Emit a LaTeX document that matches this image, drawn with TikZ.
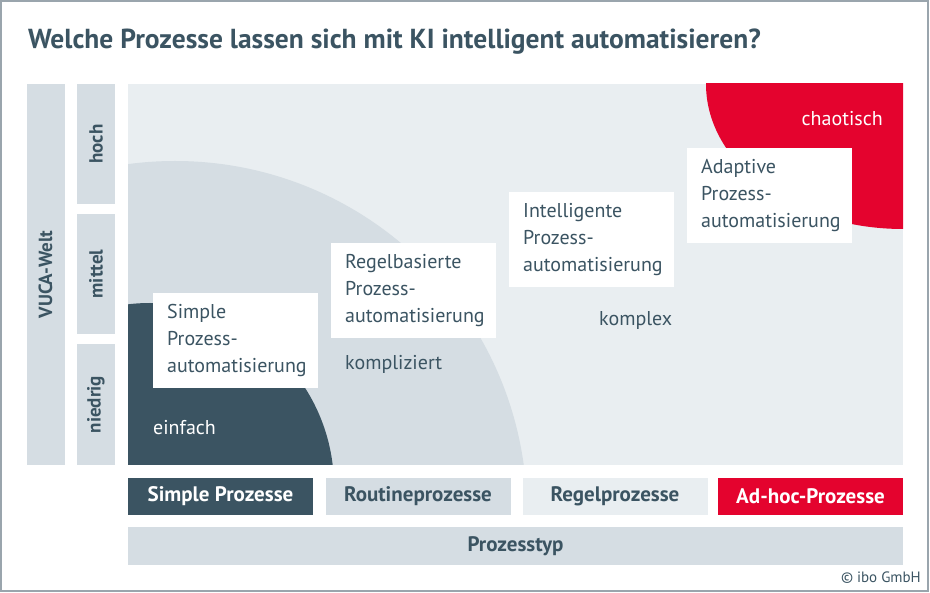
\documentclass[tikz,border=0pt]{standalone}
\usepackage{fontspec}
\setmainfont{PT Sans}
\usepackage{tikz}
\usetikzlibrary{positioning}
\definecolor{slate}{HTML}{3B5462}
\definecolor{paleblue}{HTML}{E9EEF1}
\definecolor{midgray}{HTML}{D5DDE3}
\definecolor{alarmred}{HTML}{E4032E}
\definecolor{framegray}{HTML}{9AA5AD}
\tikzset{
  procbox/.style={fill=white, anchor=north west, minimum width=165pt, minimum height=95pt, text width=137pt, inner sep=0pt, align=left, text=slate, font=\fontsize{20}{27}\selectfont},
  levelbar/.style={fill=midgray, rotate=90, minimum height=38pt, inner sep=0pt, text=slate, font=\bfseries\fontsize{19}{22}\selectfont},
  catbox/.style={minimum width=185pt, minimum height=37pt, inner sep=0pt, font=\bfseries\fontsize{21}{24}\selectfont},
  zonelabel/.style={anchor=west, inner sep=0pt, text=slate, font=\fontsize{20}{22}\selectfont}
}
\begin{document}
\begin{tikzpicture}[x=1pt, y=-1pt]
  \useasboundingbox (0,0) rectangle (930,593);
  \draw[framegray, line width=1.5pt] (1,1) rectangle (928,591);

  \node[anchor=west, inner sep=0pt, text=slate, font=\bfseries\fontsize{27.5}{32}\selectfont] (title) at (28,42) {Welche Prozesse lassen sich mit KI intelligent automatisieren?};

  \fill[paleblue] (128,84) rectangle (903,465);
  \begin{scope}
    \clip (128,84) rectangle (903,465);
    \fill[midgray] (175,513) circle[radius=352];
    \fill[slate] (150,487) circle[radius=184];
    \fill[alarmred] (903,84) ellipse[x radius=197, y radius=145];
  \end{scope}

  \node[levelbar, minimum width=381pt] (vuca) at (45.5,274.5) {VUCA-Welt};
  \node[levelbar, minimum width=120pt] (hoch) at (96,144) {hoch};
  \node[levelbar, minimum width=120pt] (mittel) at (96,274) {mittel};
  \node[levelbar, minimum width=121pt] (niedrig) at (96,404.5) {niedrig};

  \node[procbox] (simplebox) at (153,293) {Simple\\Prozess-\\automatisierung};
  \node[procbox] (regelbox) at (331,243) {Regelbasierte\\Prozess-\\automatisierung};
  \node[procbox] (intellbox) at (509,192) {Intelligente\\Prozess-\\automatisierung};
  \node[procbox] (adaptbox) at (687,148) {Adaptive\\Prozess-\\automatisierung};

  \node[zonelabel, text=white] (einfach) at (153,428) {einfach};
  \node[zonelabel] (kompliziert) at (345,364) {kompliziert};
  \node[zonelabel] (komplex) at (599,321) {komplex};
  \node[zonelabel, anchor=east, text=white] (chaotisch) at (883,119) {chaotisch};

  \node[catbox, fill=slate, text=white] (simple) at (220.5,496.5) {Simple Prozesse};
  \node[catbox, fill=midgray, text=slate] (routine) at (418,496.5) {Routineprozesse};
  \node[catbox, fill=paleblue, text=slate] (regel) at (615,496.5) {Regelprozesse};
  \node[catbox, fill=alarmred, text=white] (adhoc) at (810.5,496.5) {Ad-hoc-Prozesse};
  \node[catbox, fill=midgray, text=slate, minimum width=775pt, minimum height=38pt] (typ) at (515.5,546) {Prozesstyp};

  \node[anchor=east, inner sep=0pt, text=slate, font=\fontsize{15}{17}\selectfont] (copy) at (921,578) {© ibo GmbH};
\end{tikzpicture}
\end{document}
